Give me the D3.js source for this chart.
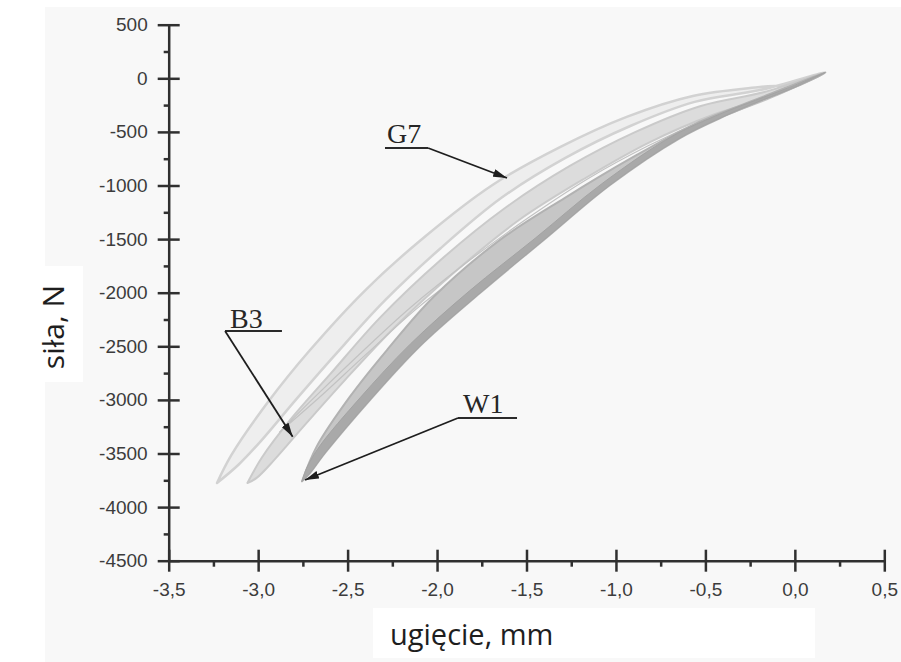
<!DOCTYPE html>
<html>
<head>
<meta charset="utf-8">
<title>siła – ugięcie</title>
<script src="https://cdn.jsdelivr.net/npm/d3@7"></script>
<style>
  body { margin: 0; background: #fff; }
  svg { display: block; }
  .tick text { font-family: "Liberation Sans", Arial, sans-serif; font-size: 19px; fill: #3c3c3c; }
  .axis path, .axis line { stroke: #303030; stroke-width: 2.5; }
  .axis-title { font-family: "Open Sans", sans-serif; fill: #1e1e1e; }
  .note { font-family: "Liberation Serif", "Times New Roman", serif; font-size: 28px; fill: #262626; }
</style>
</head>
<body>
<svg width="901" height="662"></svg>
<script>
// pętle: gałąź górna i dolna, od wierzchołka (max ugięcie) do punktu końcowego [ugięcie mm, siła N]
const g7Upper = [[-3.23,-3775],[-3.15,-3515],[-2.945,-3020],[-2.71,-2535],[-2.40,-1975],[-2.07,-1480],
  [-1.69,-995],[-1.31,-640],[-0.94,-360],[-0.57,-165],[-0.195,-81],[0.0,-53],[0.17,55]];
const g7Lower = [[-3.23,-3775],[-3.11,-3605],[-2.98,-3375],[-2.79,-3000],[-2.57,-2580],[-2.29,-2070],
  [-1.98,-1585],[-1.64,-1115],[-1.285,-745],[-0.92,-445],[-0.56,-220],[-0.195,-110],[0.17,55]];

const b3Upper = [[-3.06,-3775],[-2.98,-3540],[-2.82,-3185],[-2.60,-2765],[-2.32,-2235],[-1.98,-1695],
  [-1.62,-1210],[-1.26,-820],[-0.89,-500],[-0.53,-260],[-0.17,-128],[0.17,55]];
const b3Lower = [[-3.06,-3775],[-3.01,-3730],[-2.91,-3560],[-2.74,-3235],[-2.515,-2815],[-2.235,-2320],
  [-1.90,-1805],[-1.54,-1320],[-1.17,-930],[-0.81,-595],[-0.46,-342],[-0.14,-175],[0.17,55]];

const b3InnerUpper = [[-2.88,-3300],[-2.70,-3000],[-2.45,-2600],[-2.15,-2140],[-1.82,-1700],[-1.48,-1290],
  [-1.15,-930],[-0.82,-630],[-0.48,-370],[-0.15,-160],[0.17,55]];
const b3InnerLower = [[-2.88,-3300],[-2.66,-2980],[-2.40,-2580],[-2.10,-2130],[-1.76,-1700],[-1.42,-1290],
  [-1.08,-930],[-0.76,-630],[-0.42,-370],[-0.10,-160],[0.17,55]];

const w1Upper = [[-2.755,-3760],[-2.673,-3436],[-2.487,-2970],[-2.28,-2535],[-2.02,-2040],[-1.65,-1510],
  [-1.285,-1115],[-0.92,-750],[-0.56,-427],[-0.195,-184],[0.17,55]];
const w1Lower = [[-2.755,-3760],[-2.71,-3682],[-2.626,-3495],[-2.375,-3001],[-2.095,-2497],[-1.76,-2003],
  [-1.397,-1499],[-1.033,-995],[-0.642,-557],[-0.379,-342],[-0.195,-212],[-0.01,-90],[0.17,55]];
const w1InnerUpper = [[-2.755,-3760],[-2.73,-3640],[-2.66,-3440],[-2.43,-2980],[-2.15,-2480],[-1.82,-1985],
  [-1.45,-1490],[-1.08,-985],[-0.69,-545],[-0.42,-335],[-0.22,-205],[-0.03,-85],[0.17,55]];

// osie
const xTicks = [-3.5, -3.0, -2.5, -2.0, -1.5, -1.0, -0.5, 0.0, 0.5];
const xTickLabels = ["-3,5", "-3,0", "-2,5", "-2,0", "-1,5", "-1,0", "-0,5", "0,0", "0,5"];
const xMinor = [-3.25, -2.75, -2.25, -1.75, -1.25, -0.75, -0.25, 0.25];
const yTicks = [500, 0, -500, -1000, -1500, -2000, -2500, -3000, -3500, -4000, -4500];
const yTickLabels = ["500", "0", "-500", "-1000", "-1500", "-2000", "-2500", "-3000", "-3500", "-4000", "-4500"];
const yMinor = [250, -250, -750, -1250, -1750, -2250, -2750, -3250, -3750, -4250];

// opisy serii: tekst, początek tekstu, podkreślenie [x1, x2, y], grot strzałki
const noteNames = ["G7", "B3", "W1"];
const noteText = [[-2.28, -604], [-3.157, -2329], [-1.855, -3122]];
const noteLine = [[-2.291, -2.05, -650], [-3.185, -2.867, -2357], [-1.883, -1.553, -3169]];
const noteFrom = [[-2.05, -650], [-3.185, -2357], [-1.883, -3169]];
const noteTo = [[-1.609, -930], [-2.807, -3343], [-2.738, -3747]];

const svg = d3.select("svg");

svg.append("rect").attr("x", 45).attr("y", 7).attr("width", 856).attr("height", 655).attr("fill", "#f8f8f8");
svg.append("rect").attr("x", 373).attr("y", 608).attr("width", 442).attr("height", 50).attr("fill", "#fff");
svg.append("rect").attr("x", 36).attr("y", 266).attr("width", 47).attr("height", 116).attr("fill", "#fff");

const x = d3.scaleLinear().domain([-3.5, 0.5]).range([168.7, 884.3]);
const y = d3.scaleLinear().domain([-4500, 500]).range([560.7, 24.7]);

const line = d3.line()
    .x(d => x(d[0]))
    .y(d => y(d[1]))
    .curve(d3.curveCatmullRom.alpha(0.5));

const loopPath = (up, low) => line(up.concat(low.slice(0, -1).reverse())) + "Z";

const loops = [
    { up: g7Upper, low: g7Lower, fill: "#eeeeee", stroke: "#d2d2d2", w: 2.5 },
    { up: b3Upper, low: b3Lower, fill: "#dcdcdc", stroke: "#cacaca", w: 2 },
    { up: b3InnerUpper, low: b3InnerLower, fill: "none", stroke: "#c2c2c2", w: 1.2 },
    { up: w1Upper, low: w1Lower, fill: "#c6c6c6", stroke: "#b2b2b2", w: 2 },
    { up: w1InnerUpper, low: w1Lower, fill: "#a9a9a9", stroke: "#a3a3a3", w: 1 }
];

svg.append("g").selectAll("path")
    .data(loops)
    .join("path")
    .attr("d", d => loopPath(d.up, d.low))
    .attr("fill", d => d.fill)
    .attr("stroke", d => d.stroke)
    .attr("stroke-width", d => d.w)
    .attr("stroke-linejoin", "round");

// oś Y
const gy = svg.append("g").attr("class", "axis").attr("transform", `translate(${x(-3.5)},0)`);
gy.call(d3.axisLeft(y).tickValues(yTicks).tickSize(11).tickSizeOuter(0).tickPadding(10)
    .tickFormat((d, i) => yTickLabels[i]));
gy.selectAll(".tick line").attr("x1", 11);
gy.append("g").call(d3.axisLeft(y).tickValues(yMinor).tickSize(5).tickSizeOuter(0).tickFormat(""))
    .select(".domain").remove();

// oś X
const gx = svg.append("g").attr("class", "axis").attr("transform", `translate(0,${y(-4500)})`);
gx.call(d3.axisBottom(x).tickValues(xTicks).tickSize(11).tickSizeOuter(0).tickPadding(11)
    .tickFormat((d, i) => xTickLabels[i]));
gx.selectAll(".tick line").attr("y1", -11);
gx.append("g").call(d3.axisBottom(x).tickValues(xMinor).tickSize(6).tickSizeOuter(0).tickFormat(""))
    .select(".domain").remove();

svg.selectAll(".axis text").attr("fill", "#3c3c3c");

// tytuły osi
svg.append("text").attr("class", "axis-title")
    .attr("x", 390).attr("y", 645)
    .attr("font-size", 29)
    .text("ugięcie, mm");

svg.append("text").attr("class", "axis-title")
    .attr("transform", "translate(64,327) rotate(-90)")
    .attr("text-anchor", "middle")
    .attr("font-size", 30)
    .text("siła, N");

// strzałki z opisami
svg.append("defs").append("marker")
    .attr("id", "arrow")
    .attr("viewBox", "0 0 14 8")
    .attr("refX", 14).attr("refY", 4)
    .attr("markerWidth", 14).attr("markerHeight", 8)
    .attr("markerUnits", "userSpaceOnUse")
    .attr("orient", "auto")
    .append("path").attr("d", "M0,0L14,4L0,8Z").attr("fill", "#1e1e1e");

const notes = svg.append("g");
noteNames.forEach((name, i) => {
    notes.append("text").attr("class", "note")
        .attr("x", x(noteText[i][0])).attr("y", y(noteText[i][1]))
        .text(name);
    notes.append("line")
        .attr("x1", x(noteLine[i][0])).attr("x2", x(noteLine[i][1]))
        .attr("y1", y(noteLine[i][2])).attr("y2", y(noteLine[i][2]))
        .attr("stroke", "#2a2a2a").attr("stroke-width", 2);
    notes.append("line")
        .attr("x1", x(noteFrom[i][0])).attr("y1", y(noteFrom[i][1]))
        .attr("x2", x(noteTo[i][0])).attr("y2", y(noteTo[i][1]))
        .attr("stroke", "#1e1e1e").attr("stroke-width", 1.8)
        .attr("marker-end", "url(#arrow)");
});
</script>
</body>
</html>
